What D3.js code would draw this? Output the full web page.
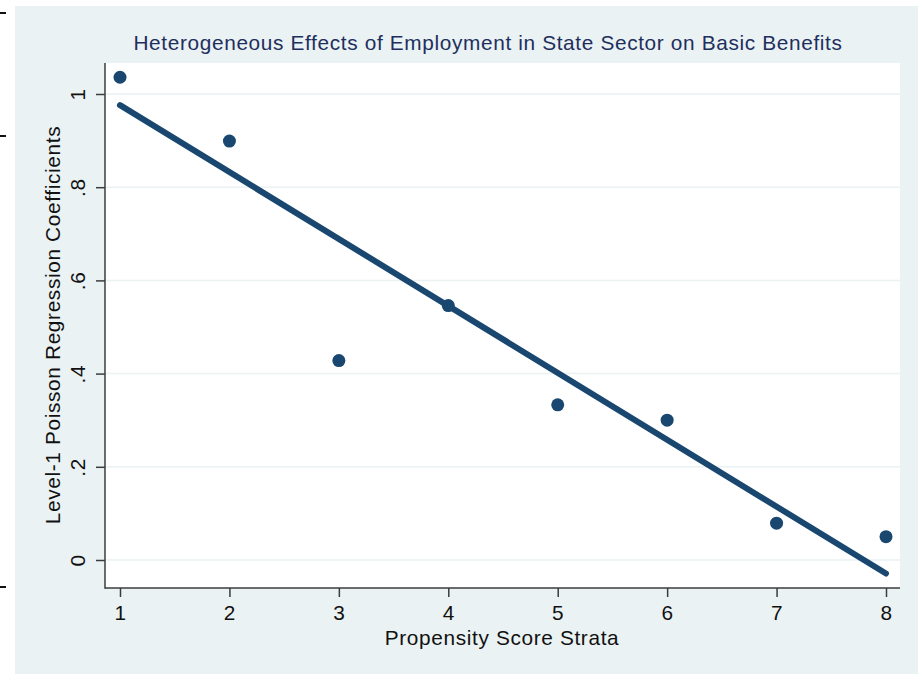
<!DOCTYPE html>
<html>
<head>
<meta charset="utf-8">
<script src="https://cdn.jsdelivr.net/npm/d3@7"></script>
<style>
  html, body { margin: 0; padding: 0; background: #ffffff; }
  svg { display: block; }
  text { font-family: "Liberation Sans", Arial, sans-serif; }
</style>
</head>
<body>
<svg id="chart" width="918" height="674"></svg>
<script>
// Strata and estimated level-1 coefficients
const strata = [1, 2, 3, 4, 5, 6, 7, 8];
const coefficients = [1.036, 0.899, 0.428, 0.546, 0.333, 0.300, 0.079, 0.050];

// Linear fit through the strata (endpoints of the fitted line)
const fitStrata = [1, 8];
const fitValues = [0.976, -0.029];

// Axis ticks
const xTicks = [1, 2, 3, 4, 5, 6, 7, 8];
const yTicks = [0, 0.2, 0.4, 0.6, 0.8, 1];
const yTickLabels = ["0", ".2", ".4", ".6", ".8", "1"];

const titleText = "Heterogeneous Effects of Employment in State Sector on Basic Benefits";
const xTitle = "Propensity Score Strata";
const yTitle = "Level-1 Poisson Regression Coefficients";

const W = 918, H = 674;
const plot = { left: 105, right: 900, top: 63, bottom: 588 };
const navy = "#1a476f";
const bg = "#eaf2f3";
const fontSize = 20.8;
const spacing = 0.65;

const svg = d3.select("#chart");

// outer graph region
svg.append("rect").attr("x", 15).attr("y", 6).attr("width", W - 15).attr("height", H - 6).attr("fill", bg);

// small page marks along the left edge
[13, 136, 587].forEach(y => {
  svg.append("rect").attr("x", 0).attr("y", y - 1).attr("width", 6).attr("height", 2).attr("fill", "#111");
});

// plot region
svg.append("rect")
  .attr("x", plot.left).attr("y", plot.top)
  .attr("width", plot.right - plot.left).attr("height", plot.bottom - plot.top)
  .attr("fill", "#ffffff");

const x = d3.scaleLinear().domain([1, 8]).range([120, 886]);
const y = d3.scaleLinear().domain([0, 1]).range([560, 94]);

// gridlines
svg.append("g").selectAll("line").data(yTicks).join("line")
  .attr("x1", plot.left + 1).attr("x2", plot.right)
  .attr("y1", d => y(d)).attr("y2", d => y(d))
  .attr("stroke", bg).attr("stroke-width", 1.5);

// points
svg.append("g").selectAll("circle").data(strata).join("circle")
  .attr("cx", (d) => x(d))
  .attr("cy", (d, i) => y(coefficients[i]))
  .attr("r", 6.5)
  .attr("fill", navy);

// fitted line
const fit = fitStrata.map((s, i) => [s, fitValues[i]]);
svg.append("path")
  .datum(fit)
  .attr("d", d3.line().x(d => x(d[0])).y(d => y(d[1])))
  .attr("fill", "none")
  .attr("stroke", navy)
  .attr("stroke-width", 6)
  .attr("stroke-linecap", "round");

// axes
const axisColor = "#3c3c3c";
const labelStyle = sel => sel
  .attr("font-size", fontSize)
  .attr("letter-spacing", spacing)
  .attr("fill", "#111");

const xAxis = svg.append("g")
  .attr("transform", `translate(0,${plot.bottom})`)
  .call(d3.axisBottom(x).tickValues(xTicks).tickFormat(d3.format("d")).tickSize(9).tickSizeOuter(0));
xAxis.select(".domain").remove();
xAxis.selectAll(".tick line").attr("stroke", axisColor).attr("stroke-width", 1.5);
xAxis.selectAll(".tick text").attr("y", 17).attr("dy", "0.71em").call(labelStyle).attr("font-family", null);

const yAxis = svg.append("g")
  .attr("transform", `translate(${plot.left},0)`)
  .call(d3.axisLeft(y).tickValues(yTicks).tickFormat((d, i) => yTickLabels[i]).tickSize(9).tickSizeOuter(0));
yAxis.select(".domain").remove();
yAxis.selectAll(".tick line").attr("stroke", axisColor).attr("stroke-width", 1.5);
yAxis.selectAll(".tick text")
  .attr("x", null).attr("dy", null)
  .attr("transform", "translate(-20,0) rotate(-90)")
  .attr("text-anchor", "middle")
  .call(labelStyle).attr("font-family", null);

// axis lines
svg.append("line").attr("x1", plot.left).attr("x2", plot.left).attr("y1", plot.top).attr("y2", plot.bottom + 0.75)
  .attr("stroke", axisColor).attr("stroke-width", 1.5);
svg.append("line").attr("x1", plot.left).attr("x2", plot.right).attr("y1", plot.bottom).attr("y2", plot.bottom)
  .attr("stroke", axisColor).attr("stroke-width", 1.5);

// titles
svg.append("text")
  .attr("x", 488).attr("y", 50)
  .attr("text-anchor", "middle")
  .attr("font-size", fontSize).attr("letter-spacing", spacing)
  .attr("fill", "#1e2f5e")
  .text(titleText);

svg.append("text")
  .attr("x", 502).attr("y", 645)
  .attr("text-anchor", "middle")
  .call(labelStyle)
  .text(xTitle);

svg.append("text")
  .attr("transform", "translate(60,325) rotate(-90)")
  .attr("text-anchor", "middle")
  .call(labelStyle)
  .text(yTitle);
</script>
</body>
</html>
